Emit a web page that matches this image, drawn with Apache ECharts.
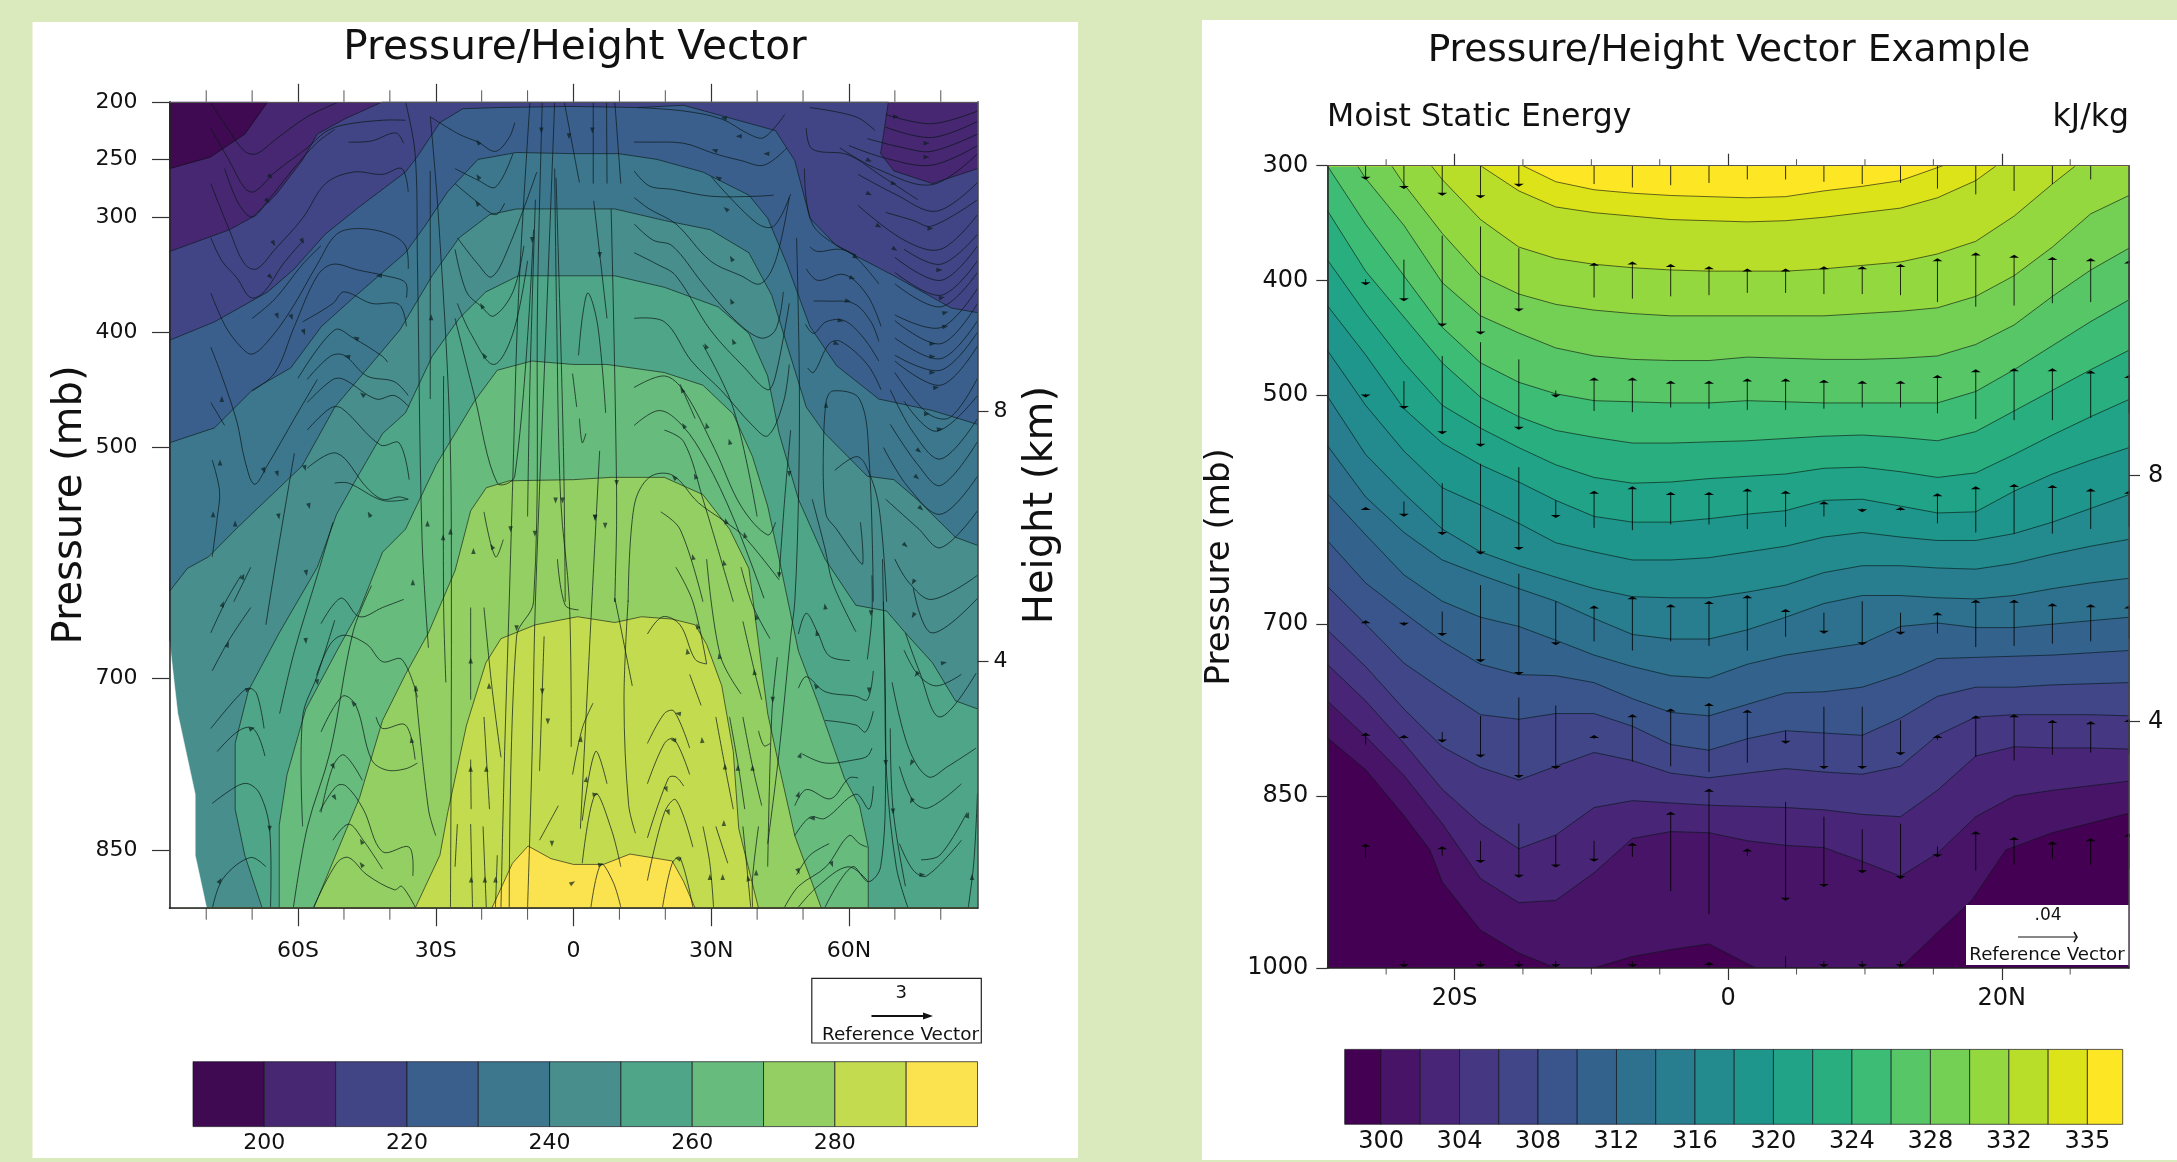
<!DOCTYPE html>
<html><head><meta charset="utf-8">
<style>html,body{margin:0;padding:0;background:#dbeabd}#c{width:2177px;height:1162px}</style>
<script src="https://cdn.jsdelivr.net/npm/echarts@6/dist/echarts.min.js"></script>
</head><body><div id="c"></div>
<script>
// ---------- labels ----------
const titleLeft = 'Pressure/Height Vector';
const titleRight = 'Pressure/Height Vector Example';
const subLeft = 'Moist Static Energy', subRight = 'kJ/kg';
const pressureTicksL = [200,250,300,400,500,700,850];
const pressureTicksR = [300,400,500,700,850,1000];
const latMajorL = [-60,-30,0,30,60], latMinorL = [-80,-70,-50,-40,-20,-10,10,20,40,50,70,80];
const latMajorR = [-20,0,20], latMinorR = [-25,-15,-10,-5,5,10,15,25];
const heightTicks = [4,8];
// ---------- left panel: band colours (190..300 by 10) ----------
const barLevelsL = [190,200,210,220,230,240,250,260,270,280,290,300];
const barColorsL = ['#3f0a52','#472672','#424585','#3b5f8c','#3d778e','#478e8c','#4fa588','#67bb7c','#93cf62','#c3dc4f','#fbe24f'];
const barLabelsL = [200,220,240,260,280];
// ---------- left panel: contour lines [lat, mb] ----------
const cL200 = [[-88,258],[-79.1,248],[-71.6,228],[-66.6,200]];
const cL210 = [[-88,330],[-74.9,311],[-69.9,300],[-64.9,281],[-59.1,251],[-55.8,228],[-49.9,215],[-41.6,200],[68.6,200],[66.9,245],[69.8,260],[78.2,271],[88,258]];
const cL220 = [[-88,407],[-78.2,391],[-66.6,365],[-60.8,345],[-54.1,315],[-46.6,291],[-36.6,261],[-34.1,248],[-29.1,218],[-24.1,206],[-16.6,205],[0,204],[14,205],[24,203],[44,225],[48.2,251],[51.5,301],[57.3,325],[69.8,351],[82.3,379],[88,383]];
const cL230 = [[-88,496],[-78.2,483],[-69.9,450],[-61.6,431],[-54.9,395],[-48.2,371],[-36.6,331],[-32.4,308],[-27.4,278],[-20.8,250],[-12.4,244],[0,245],[9.8,245],[18.2,250],[28.2,261],[38.2,281],[42.3,301],[46.5,341],[51.5,395],[57.3,429],[66.5,458],[78.2,468],[88,480]];
const cL240 = [[-88,625],[-84.1,605],[-79.5,595],[-73.3,570],[-59.1,516],[-52,465],[-37.8,398],[-30.8,351],[-24.9,318],[-18.3,298],[-12.4,293],[0,293],[9,293],[19.8,303],[29.8,311],[38.2,331],[43.2,368],[46.5,411],[50.7,465],[54.8,488],[64,525],[69.8,528],[74.8,545],[83.2,578],[88,585]];
const cL250 = [[-67.8,900],[-71.6,854],[-73.7,814],[-73.7,757],[-70.8,711],[-64.1,661],[-55.8,604],[-51.6,558],[-47.4,528],[-41.6,488],[-36.6,470],[-30.8,421],[-24.9,388],[-19.1,365],[-12,351],[0,351],[9,351],[19.8,361],[31.5,378],[38.2,401],[42.3,438],[44.8,488],[49,545],[54.8,597],[61.5,637],[68.2,642],[72.3,661],[78.2,687],[83.2,720],[88,727]];
const cL260 = [[-64.1,900],[-64.1,828],[-62.4,784],[-58.3,727],[-51.6,677],[-46.6,641],[-41.6,591],[-36.6,571],[-29.9,515],[-25.8,488],[-21.6,460],[-16.6,433],[-9.1,425],[0,428],[7.3,428],[19.8,435],[28.2,446],[34.8,471],[39,508],[42.3,551],[44.8,597],[49,677],[53.2,721],[59,787],[62.3,811],[64.2,847],[64.2,900]];
const cL270 = [[-56.6,900],[-46.6,804],[-41.6,737],[-36.6,697],[-31.6,661],[-25.8,607],[-22.4,555],[-19,535],[-14,529],[0,528],[8.2,526],[19.8,526],[28.2,541],[34,571],[38.2,605],[42.3,731],[44.8,777],[48.2,837],[54,900]];
const cL280 = [[-34.5,900],[-29.1,854],[-27.4,817],[-23.3,741],[-19.1,687],[-15.8,666],[-8.3,654],[0.9,647],[9,652],[14.8,647],[21.5,649],[26.5,654],[29,671],[32.3,707],[34.8,764],[36,831],[40.3,900]];
const cL290 = [[-17.8,900],[-13.3,861],[-9.9,846],[-4.9,857],[0,862],[6.5,862],[12.3,853],[21.5,859],[24,877],[26.5,900]];
const cornerL = [[-88,668],[-86.2,731],[-82.4,801],[-82.4,854],[-79.9,900],[-88,900]];
// ---------- left panel: streamlines [lat, mb] ----------
const streamsL = [
[[-79,201],[-75,225],[-71.6,243],[-69,245],[-65,233],[-58,213],[-51.6,201]],
[[-79,223],[-75,251],[-71.6,275],[-69.5,278],[-65,261],[-58,240],[-54,226],[-50,220],[-41.6,216],[-36.6,216]],
[[-76,258],[-73,288],[-70,300],[-66.6,286],[-61.6,261],[-56,236],[-52,224]],
[[-49,235],[-44,234],[-38.7,227],[-37,236]],
[[-79,271],[-75,311],[-71.6,341],[-69,345],[-65,328],[-59,301],[-54,271],[-48,261],[-41.6,263],[-37.4,258],[-36,278]],
[[-79,318],[-76.6,338],[-73.3,353],[-70.3,370],[-67.4,365],[-63.3,341],[-59,321]],
[[-79,366],[-75.8,395],[-72.4,413],[-70,419],[-66.6,408],[-61.6,381],[-55.8,341],[-51.6,315],[-46.6,310],[-40,315],[-36.6,325],[-36,345]],
[[-79,413],[-76.6,438],[-73.3,478],[-71.6,511],[-69.5,532],[-66.6,515],[-60.8,475],[-55.8,441]],
[[-70,388],[-65,371],[-59,341],[-55,325]],
[[-70,451],[-65,435],[-60.8,395],[-55.8,351],[-52.4,341],[-47,346],[-41,351],[-36.6,357],[-36.4,370]],
[[-59,391],[-52.4,375],[-50,365],[-44,375],[-38,376],[-36.4,395]],
[[-60,440],[-52,398],[-48,405],[-41.6,421],[-40.5,426]],
[[-58,441],[-53,421],[-50,420],[-45,438],[-39,443],[-36,455]],
[[-58,461],[-52.4,441],[-50,441],[-43,458],[-39,455],[-35.8,465]],
[[-58,485],[-53,466],[-50.5,466],[-42,498],[-38,496],[-35.8,528]],
[[-58,518],[-51.6,505],[-45,535],[-41.6,545],[-38,543],[-36,545]],
[[-52,531],[-49,531],[-41.6,546],[-36,545]],
[[-79,461],[-76,481]],
[[-78.7,511],[-77.1,538],[-77.6,561],[-78.7,595]],
[[-79,661],[-75.8,634],[-72.4,611]],
[[-74,634],[-70.3,604]],
[[-78.7,694],[-75,667],[-70.3,639]],
[[-79,744],[-73.3,717],[-70.8,709],[-69,714],[-67.4,744]],
[[-77.6,764],[-73.3,747],[-70.3,743],[-68.6,751],[-67.2,768]],
[[-78.7,809],[-73.3,794],[-70.8,792],[-68.3,801],[-66.2,831],[-66,899]],
[[-78.6,899],[-76.3,874],[-70.4,856],[-67,864]],
[[-67,654],[-65,604],[-60.8,505]],
[[-64,731],[-60.8,677],[-55.8,611],[-52.4,565]],
[[-59,829],[-59,734],[-55.8,698],[-52,650]],
[[-61,899],[-58,830],[-53,764],[-48,660],[-44,620]],
[[-55,653],[-52.4,637],[-50.3,631],[-46.6,647],[-41.6,639],[-37,632]],
[[-56,698],[-53,671],[-50,663],[-45,671],[-41.6,686],[-37.4,684],[-34,717]],
[[-55,747],[-50.3,716],[-47.4,724],[-44,771],[-40.8,780],[-36.6,779],[-34,774]],
[[-43,734],[-41.6,744],[-36.6,741],[-34.5,771]],
[[-55,817],[-52.4,777],[-50,767],[-46,789]],
[[-55.3,816],[-51.6,794],[-49.5,794],[-45.8,814],[-41.6,851],[-35.8,847],[-35,872]],
[[-52.4,841],[-49,827],[-45.8,841],[-41.6,866]],
[[-56.6,899],[-51.6,861],[-49,856],[-45,871],[-39,884],[-37.4,881],[-34.5,899]],
[[-36.6,200],[-34.5,245],[-34,338],[-33,578],[-31.6,674]],
[[-31.2,213],[-29.5,295],[-27,478],[-26.6,634],[-26.8,899]],
[[-31.2,260],[-31.2,345],[-31.2,458]],
[[-28.3,438],[-28.3,634],[-27.8,704]],
[[-31.2,213],[-25,228],[-20.8,235],[-17,243],[-14,231],[-12.8,218]],
[[-25.8,258],[-20.8,268],[-17,274],[-13.2,245]],
[[-25.8,271],[-21.6,285],[-17,298],[-15,288]],
[[-25.3,318],[-20.8,341],[-17.8,352],[-14,325],[-8,261]],
[[-25.8,328],[-23.3,365],[-20,378],[-17.4,386],[-13.2,365],[-10.8,325]],
[[-25.3,375],[-22.4,401],[-17.4,428],[-13.2,401],[-10,338]],
[[-25.8,388],[-21.6,455],[-16.6,531],[-12.8,525],[-8.7,311]],
[[-9.5,201],[-12,371],[-13.2,525],[-14,634],[-15,764],[-15.8,899]],
[[-6.8,200],[-7.8,361],[-8.7,634],[-12.4,664],[-14,899]],
[[-4.1,200],[-5.8,378],[-8.3,634],[-9,764],[-10,899]],
[[-8.3,285],[-9.5,445],[-10,560]],
[[-4.1,258],[-3.7,378],[-2.8,545],[-0.9,634],[-0.5,760]],
[[-2,200],[0.1,245],[1.3,270]],
[[4.3,200],[4.3,271]],[[7.2,200],[7.3,271]],[[9,200],[10.3,271]],
[[4.4,286],[7.3,388]],
[[1.1,420],[2,385],[3.2,366],[5.3,395],[7,470]],
[[-0.2,436],[0.7,465]],[[1.3,475],[1.9,496],[2.7,488]],
[[-19.5,556],[-17,595],[-15.3,580]],
[[8.2,293],[9.4,545],[9,634],[9,631],[12.8,707]],
[[-3.8,266],[-2.2,500],[-1.8,634]],
[[5.7,503],[4,634],[1.5,831]],
[[-3.5,597],[-1.8,637],[1.1,641]],
[[-0.2,784],[1.9,744],[4.25,722]],
[[1.9,824],[4.8,764],[7.3,792]],
[[1.9,861],[4.8,801],[8.2,831],[10.3,864]],
[[3.8,899],[6,862],[8.6,877],[10.3,899]],
[[-6.4,664],[-7.4,781]],[[-3.3,811],[-7.4,841]],
[[-22.4,639],[-22.4,719]],[[-19.5,639],[-17.8,707],[-15.8,769]],
[[-22.4,771],[-22.3,814]],[[-19.5,734],[-18.3,814]],
[[-22.4,827],[-22,899]],[[-19.7,829],[-19,899]],[[-16.6,854],[-17,899]],[[-25.3,827],[-25.8,864]],
[[-34.5,707],[-31.6,814],[-30,837]],
[[16.1,757],[19.8,731],[21.9,729],[25.3,761]],
[[16.1,792],[19.8,757],[21.9,753],[25.3,784]],
[[16.1,839],[20.7,787],[22.3,786],[24,794]],
[[16.1,876],[19.8,817],[22.3,806],[26,847]],
[[19.4,899],[21.5,861],[23.2,856],[26,899]],
[[16.1,662],[19.4,647],[23.2,654],[26.5,684],[29,688]],
[[14,205],[24,208],[32.3,215],[38.2,228],[41.5,231],[46,211]],
[[13.2,235],[16,235],[24,236],[30.7,245],[36.5,251],[41.5,255],[46.5,240]],
[[13.2,260],[16.5,273],[21.5,276],[30,282],[39.8,282],[43.6,281]],
[[30,265],[39.8,305],[43.6,308],[47.3,280]],
[[13.2,283],[16.5,293],[22.3,306],[29.8,338],[36.5,351],[40.7,358],[44,338],[47,283]],
[[13.2,306],[17.3,320],[21.5,325],[28.2,358],[34.8,388],[40.7,405],[44,398],[45.7,365]],
[[13.2,331],[18.2,341],[22.3,351],[29.8,398],[37.3,431],[42.3,450],[44,438],[47,375]],
[[13.2,388],[19.8,391],[25.7,425],[32.3,451],[39,481],[42.3,490],[45.7,461],[47,428]],
[[13.2,448],[19.8,438],[24,451],[30.7,501],[36.5,551],[42.3,576],[44,565]],
[[13.2,481],[18.7,468],[23.7,481],[28.8,511],[34.8,561],[41.5,631]],
[[19.8,485],[24,495],[28.2,545],[34.8,634]],
[[11.9,634],[13.2,551],[16.5,526],[21.5,524],[27.2,548],[33.2,565],[37.3,578],[44.8,615]],
[[19,556],[23.2,571],[28.2,634]],
[[22.3,604],[26,634],[29,688]],
[[23.2,445],[26.5,475]],[[28.2,411],[34.8,466],[40,560]],
[[25.3,697],[27.8,724]],
[[28.2,829],[29.7,861],[30.5,899]],
[[31,829],[33.6,861]],
[[31,734],[33,777],[34.8,814]],
[[34,734],[36,779],[37.3,814]],
[[36.9,734],[39,777],[41,811]],
[[36.9,651],[39.4,694],[41,719]],
[[40.3,746],[41.5,759],[42.8,757]],
[[36.9,829],[38,874],[38.6,899]],
[[40.3,829],[39,874],[39,899]],
[[44.4,682],[43.2,731],[42.3,864]],
[[29,597],[32,681],[36.5,714]],
[[36.5,604],[39,637],[42.8,666]],
[[11.9,633],[11,720],[12,810],[13.5,835]],
[[48.6,318],[49.2,445],[49,545],[48.2,634],[47.3,664],[44.8,764],[42.3,844]],
[[47.3,485],[46,545],[44.8,611]],
[[51.5,205],[61.5,213],[65.7,225]],
[[50.7,223],[52,241],[59.8,246],[67.3,265],[75,285]],
[[50.3,258],[52.3,308],[61.5,333]],
[[51.5,326],[53.2,330],[58.2,328],[61.5,335],[66.5,358]],
[[50.7,345],[53.2,355],[59,350],[64,368],[67,395]],
[[52.3,373],[55,373],[61,375],[64.8,391],[66.5,408]],
[[50.5,393],[52.3,401],[55,391],[59,390],[63.2,405],[66.5,425]],
[[51,431],[52.3,435],[55.7,410],[58.2,408],[64,428],[67,450]],
[[54.4,511],[55,461],[56.5,451],[62.3,458],[64.4,511],[65.3,634]],
[[54.4,511],[55,558],[57.3,571],[61.5,595],[63,601],[62.5,565]],
[[56.9,520],[61.5,508],[63.6,515],[66.5,551],[68.2,634]],
[[52,545],[54.8,588],[56.5,618],[61.5,660]],
[[68,211],[78,219],[88,208]],
[[68,222],[78,231],[88,217]],
[[64,232],[72,240],[78,243],[88,228]],
[[60,238],[68,249],[78,255],[88,238]],
[[58,240],[66,258],[78,272],[88,245]],
[[62,263],[70,280],[79,295],[88,270]],
[[68,296],[74,303],[78,308],[88,285]],
[[62,290],[72,320],[80,328],[88,298]],
[[72,328],[80,341],[88,315]],
[[70,335],[80,355],[88,325]],
[[70,348],[80,368],[88,338]],
[[70,358],[80,378],[88,348]],
[[70,385],[80,396],[88,362]],
[[70,390],[80,410],[88,375]],
[[70,405],[80,423],[88,390]],
[[70,420],[80,433],[88,400]],
[[70,425],[80,446],[88,412]],
[[70,435],[77,470],[82,474],[88,440]],
[[72,460],[79,486],[88,455]],
[[69,450],[74,487],[80,510],[88,475]],
[[69,480],[75,515],[80,533],[88,495]],
[[67.5,500],[73,535],[80,558],[88,525]],
[[68,545],[75,570],[80,587],[88,555]],
[[70,597],[73,617],[78,632],[88,611]],
[[74,622],[78,661],[88,631]],
[[72,676],[75,697],[79,707],[84.5,697]],
[[69.4,704],[73,761],[77.3,786],[81.5,777],[87.7,761]],
[[71,777],[74,807],[77.3,813],[84.5,792]],
[[71,844],[74,867],[76.9,872],[84.5,841]],
[[75.7,858],[79.8,854],[85.7,817]],
[[72.3,661],[75.3,694],[79.8,734],[87.7,696]],
[[67.3,597],[67.8,697],[68.2,784],[70.3,864],[72.8,899]],
[[69,744],[69.6,814],[72.3,881]],
[[65,611],[65,647],[64,684]],
[[67.5,634],[68,781],[66.9,864],[64.2,877],[60.7,864],[54.8,899]],
[[49,662],[50.7,644],[53.2,661],[55.7,681],[60.2,685]],
[[49,709],[50.7,699],[54.8,712],[61.5,716],[64,719],[65.3,694]],
[[49.8,766],[54.8,774],[61.5,771],[64,768],[65,761]],
[[54.8,737],[61.5,741],[63.6,747],[65.3,729]],
[[48.2,811],[50.7,797],[56,805],[60,787],[62,787]],
[[48.2,837],[51.5,821],[54.8,822],[61.5,801],[64.4,814],[65.3,794]],
[[48.6,871],[51.5,854],[55.7,844]],
[[46,899],[49,881],[55,864],[60,837],[62.3,844],[64,847]],
[[49,899],[53.2,881],[59.8,864],[64,876]],
[[86,899],[87.2,860],[88,800]]
];
// arrowheads [lat, mb, rotation degrees counter-clockwise from up]
const arrowsL = [
[-20.8,235,35],[-20.8,265,35],[-21,288,35],[-7,225,180],[-1,230,180],[4.1,225,180],[-9,320,180],[-66,265,225],[-66.6,286,225],[-65.3,323,210],[-59,321,210],[-66,352,225],[-64.5,386,200],[-61.4,387,200],[-58.7,400,200],[-42.4,351,90],[-47.4,405,60],[-49.3,421,80],[-46,454,50],[-20,377,30],[-19.5,420,30],[-31,387,0],[-76.6,458,0],[-77,513,0],[-78.5,558,0],[-67.4,520,205],[-64.5,523,195],[-58.5,518,195],[-73.7,566,0],[-57.6,551,195],[-64.2,560,190],[-44.5,558,30],[-31.8,566,0],[-28.4,578,0],[-26.8,573,0],[-21.8,590,0],[-17.8,586,30],[-13.7,571,180],[-8.4,575,180],[-3.9,546,180],[-2.4,546,180],[4.7,561,180],
[-72,612,-25],[-76.4,636,-20],[-75.3,671,-25],[-70.8,710,-70],[-70,744,-70],[-66.2,831,180],[-77,876,-30],[-58.2,609,190],[-58.3,668,185],[-55.8,704,190],[-48,722,40],[-52.3,777,210],[-52,804,210],[-46.2,842,30],[-46.2,862,35],[-35,617,0],[-34.3,709,0],[-35.3,754,10],[-22.4,685,0],[-18.4,707,0],[-22.4,779,0],[-19,779,0],[-22.3,875,0],[-19.3,875,0],[-17,875,0],[-12.4,657,180],[-6.8,712,180],[-5.6,738,180],[-4.7,844,180],[-0.2,878,-60],[1.6,753,-10],[2.8,788,-10],[4.8,801,-80],[6,862,-80],[22.75,731,80],[21.7,754,80],[20.25,797,200],[20.7,817,200],[22.75,857,70],[24.8,677,10],[27,655,20],[31.75,681,10],[28,754,5],[33,777,0],[35.8,778,0],[39,778,0],[32.75,826,0],[29.7,873,0],[32.5,873,0],[38,874,15],[39.8,869,0],[39.4,695,5],[39.8,647,15],[43.4,719,180],[54.8,638,10],[53,661,15],[52.75,707,35],[49.4,767,-20],[49,801,-20],[51.9,822,90],[56.3,862,200],[49,868,200],[64.8,644,180],[64.4,711,180],[68,774,180],[69.6,816,180],[73.6,774,150],[73.6,807,150],[76,871,-90],[85.9,819,-20],[86.8,873,0],[80.7,687,-80],[74.7,697,140],[74,617,150],[74,646,150],
[70.25,213,-90],[76.9,236,-90],[76.9,248,-90],[64.4,251,-115],[69.8,271,-105],[64.4,280,-115],[66.5,308,-120],[77.75,310,-90],[70,328,-125],[61.5,335,-120],[79.7,346,-90],[60.75,353,-110],[80.25,370,-80],[59.8,373,-100],[81,383,-75],[81,395,-80],[58.2,390,-100],[78.2,410,-90],[78.2,421,-90],[57.3,410,-110],[78.2,435,-90],[79,448,-80],[77,471,-90],[79.8,484,-80],[75.25,503,-130],[74.8,526,-130],[75.7,553,-130],[72.3,585,-130],[55,463,0],
[32.75,214,80],[36,230,90],[30.7,242,70],[42,245,90],[31.5,266,60],[33.2,293,50],[34.4,336,30],[34.4,373,25],[28.8,412,25],[34.8,408,25],[23.6,450,30],[24,481,30],[29,481,15],[34,495,15],[26.5,525,25],[21.9,526,45],[33.2,564,15],[37.3,576,15],[26,595,15],[32.75,600,15],[6.9,568,180],[4.7,561,180],[44.8,611,180],[47,523,180],[9.4,531,180],[5.7,333,180]
];
const refL = '3', refLabel = 'Reference Vector';

// ---------- right panel ----------
const rLats = [-29.3,-26.5,-23.7,-20.9,-18.1,-15.3,-12.6,-9.8,-7,-4.2,-1.4,1.4,4.2,7,9.8,12.6,15.3,18.1,20.9,23.7,26.5,29.3];
const barLabelsR = [300,302,304,306,308,310,312,314,316,318,320,322,324,326,328,330,332,334,335];
const barShownR = [0,2,4,6,8,10,12,14,16,18];
const barColorsR = ['#440154','#481467','#482576','#453781','#404688','#39558c','#33638d','#2d718e','#287d8e','#238a8d','#1f968b','#20a386','#29af7f','#3cbc75','#56c667','#74d055','#94d840','#b8de29','#dce319','#fde725'];
// contour pressures at each rLats column, from the bottom band up
const pR2  = [767,798,832,874,922,943,941,917,887,881,882,889,893,895,907,920,900,868,850,845,841,837];
const pR3  = [735,767,804,844,874,896,884,860,854,856,858,859,860,862,866,868,845,815,807,808,808,809];
const pR4  = [705,737,774,807,825,836,824,812,819,830,834,830,826,829,831,824,797,781,779,779,779,780];
const pR5  = [667,700,734,757,779,783,778,778,789,805,810,800,793,795,797,782,763,755,755,753,752,751];
const pR6  = [627,664,690,715,735,744,745,751,765,777,780,770,760,759,755,744,730,729,728,727,725,723];
const pR7  = [586,622,657,680,694,702,714,727,737,745,747,735,727,722,717,702,699,703,703,700,697,694];
const pR8  = [544,589,620,644,657,669,680,695,709,713,713,705,694,682,675,675,677,678,675,669,664,660];
const pR9  = [501,552,586,617,637,649,659,669,676,677,677,672,666,655,649,649,651,652,647,639,632,626];
const pR10 = [461,509,549,581,596,612,629,637,644,644,642,637,632,624,620,624,627,627,621,611,599,587];
const pR11 = [422,465,512,542,561,576,592,606,611,611,608,604,601,592,591,597,603,602,584,569,557,546];
const pR12 = [382,429,472,509,529,546,561,572,577,576,573,571,569,564,563,567,572,568,552,535,519,504];
const pR13 = [339,392,432,472,502,519,531,537,542,542,541,540,538,536,535,537,540,532,514,496,478,461];
const pR14 = [300,351,396,441,472,489,499,505,506,507,507,505,506,507,507,507,507,497,478,457,436,417];
const cR1  = [[-29.3,799],[-26.5,827],[-23.7,867],[-21.8,897],[-20.9,925],[-18.1,967],[-15.3,987],[-12.6,1000],[-9.8,1000],[-7,990],[-4.2,984],[-1.4,979],[2,1000],[12.6,1000],[15.3,969],[17.8,941],[20.3,897],[23.7,882],[29.3,865]];
const cR15 = [[-27.1,300],[-26.5,311],[-23.7,352],[-20.9,402],[-18.1,431],[-15.3,446],[-12.6,459],[-9.8,466],[-7,469],[-4.2,470],[-1.4,470],[1.4,467],[4.2,468],[7,469],[9.8,469],[12.6,468],[15.3,466],[18.1,456],[20.9,439],[23.7,414],[26.5,391],[29.3,372]];
const cR16 = [[-24.6,300],[-23.7,316],[-20.9,359],[-18.1,396],[-15.3,412],[-12.6,421],[-9.8,426],[-7,429],[-4.2,431],[-1.4,431],[1.4,431],[4.2,431],[7,431],[9.8,429],[12.6,427],[15.3,424],[18.1,414],[20.9,396],[23.7,371],[26.5,342],[29.3,326]];
const cR17 = [[-21.7,300],[-20.9,312],[-18.1,347],[-15.3,371],[-12.6,381],[-9.8,386],[-7,389],[-4.2,391],[-1.4,392],[1.4,392],[4.2,392],[7,390],[9.8,387],[12.6,384],[15.3,377],[18.1,366],[20.9,344],[23.7,316],[25.4,300]];
const cR18 = [[-18.1,300],[-15.3,322],[-12.6,336],[-9.8,341],[-7,344],[-4.2,347],[-1.4,348],[1.4,349],[4.2,348],[7,345],[9.8,341],[12.6,337],[15.3,328],[18.1,313],[19.6,300]];
const cR19 = [[-15,300],[-12.6,314],[-9.8,321],[-7,324],[-4.2,326],[-1.4,327],[1.4,328],[4.2,327],[7,322],[9.8,318],[12.6,313],[15.7,300]];
// vectors: [lat, tail mb, head mb]
const vecRow300 = [[-26.5,289,311],[-23.7,281,319],[-20.9,275,325],[-18.1,273,327],[-15.3,283,317],[-9.8,316,284],[-7,319,281],[-4.2,317,283],[-1.4,315,285],[1.4,312,288],[4.2,312,288],[7,314,286],[9.8,316,284],[12.6,315,285],[15.3,320,280],[18.1,325,275],[20.9,322,278],[23.7,316,284],[26.5,312,288]];
const vecRow400 = [[-26.5,399,403],[-23.7,382,417],[-20.9,361,439],[-18.1,353,446],[-15.3,372,426],[-9.8,415,386],[-7,416,385],[-4.2,414,387],[-1.4,413,389],[1.4,411,391],[4.2,411,391],[7,412,389],[9.8,412,389],[12.6,413,387],[15.3,419,382],[18.1,423,377],[20.9,422,379],[23.7,420,381],[26.5,419,382],[29.3,416,384]];
const vecRow500 = [[-26.5,499,501],[-23.7,488,511],[-20.9,466,533],[-18.1,454,544],[-15.3,469,529],[-12.6,496,501],[-9.8,514,486],[-7,515,486],[-4.2,511,489],[-1.4,512,489],[1.4,513,487],[4.2,513,487],[7,512,488],[9.8,511,489],[12.6,511,489],[15.3,516,484],[18.1,521,479],[20.9,522,478],[23.7,522,478],[26.5,520,480],[29.3,516,484]];
const vecRow600 = [[-26.5,600,599],[-23.7,593,605],[-20.9,577,621],[-18.1,560,638],[-15.3,563,634],[-12.6,592,606],[-9.8,616,585],[-7,618,581],[-4.2,613,586],[-1.4,613,586],[1.4,617,583],[4.2,615,585],[7,606,594],[9.8,599,601],[12.6,601,599],[15.3,612,587],[18.1,620,581],[20.9,621,579],[23.7,621,580],[26.5,617,583],[29.3,615,585]];
const vecRow700 = [[-26.5,700,698],[-23.7,698,700],[-20.9,689,709],[-18.1,666,732],[-15.3,656,743],[-12.6,680,717],[-9.8,715,685],[-7,723,677],[-4.2,715,684],[-1.4,719,681],[1.4,723,676],[4.2,711,688],[7,690,707],[9.8,680,717],[12.6,690,708],[15.3,708,691],[18.1,720,680],[20.9,719,680],[23.7,717,683],[26.5,715,684],[29.3,713,685]];
const vecRow800 = [[-26.5,805,796],[-23.7,800,798],[-20.9,794,802],[-18.1,780,815],[-15.3,764,833],[-12.6,771,825],[-9.8,800,798],[-7,820,780],[-4.2,824,775],[-1.4,829,770],[1.4,821,776],[4.2,793,803],[7,772,825],[9.8,772,825],[12.6,784,813],[15.3,801,798],[18.1,816,781],[20.9,819,780],[23.7,814,785],[26.5,812,786],[29.3,814,784]];
const vecRow900 = [[-26.5,904,893],[-20.9,902,895],[-18.1,889,907],[-15.3,874,920],[-12.6,884,911],[-9.8,889,906],[-7,903,892],[-4.2,933,865],[-1.4,953,845],[1.4,902,897],[4.2,855,940],[7,868,928],[9.8,879,916],[12.6,874,921],[15.3,894,902],[18.1,915,882],[20.9,910,887],[23.7,905,891],[26.5,910,888],[29.3,914,884]];
const vecRow1000 = [[-23.7,994,998],[-18.1,994,998],[-15.3,994,998],[-12.6,994,998],[-7,994,998],[-1.4,1003,996],[4.2,990,1002],[7,994,998],[9.8,994,998],[12.6,994,998]];

// ---------- helpers ----------
const FONT = 'DejaVu Sans';
const zip = ps => ps.map((p,i)=>[rLats[i],p]);
const contoursL = [
 {pts:[[-88,200],[88,200],[88,900],[-88,900]],fill:barColorsL[1],line:false},
 {pts:cL200.concat([[-88,200]]),raw:cL200,fill:barColorsL[0]},
 ...[[cL210,2],[cL220,3],[cL230,4],[cL240,5],[cL250,6],[cL260,7],[cL270,8],[cL280,9],[cL290,10]].map(([c,b])=>({pts:c.concat([[88,900],[-88,900]]),raw:c,fill:barColorsL[b]})),
 {pts:cornerL,fill:'#ffffff',line:false}
];
const rAll = [cR1,zip(pR2),zip(pR3),zip(pR4),zip(pR5),zip(pR6),zip(pR7),zip(pR8),zip(pR9),zip(pR10),zip(pR11),zip(pR12),zip(pR13),zip(pR14),cR15,cR16,cR17,cR18,cR19];
const contoursR = [{pts:[[-29.3,300],[29.3,300],[29.3,1000],[-29.3,1000]],fill:barColorsR[0],line:false}]
  .concat(rAll.map((c,i)=>({pts:c.concat([[29.3,300],[-29.3,300]]),raw:c,fill:barColorsR[i+1]})));
const vectorsR = [].concat(vecRow300,vecRow400,vecRow500,vecRow600,vecRow700,vecRow800,vecRow900,vecRow1000);

function contourSeries(list,xi,yi){
  return {type:'custom',xAxisIndex:xi,yAxisIndex:yi,clip:true,silent:true,z:2,
    data:list.map((_,i)=>[i]),
    renderItem:(p,api)=>{
      const c=list[api.value(0)];
      const kids=[{type:'polygon',shape:{points:c.pts.map(q=>api.coord(q))},style:{fill:c.fill,stroke:c.fill,lineWidth:.5}}];
      if(c.line!==false) kids.push({type:'polyline',shape:{points:c.raw.map(q=>api.coord(q))},style:{fill:null,stroke:'rgba(10,20,20,.62)',lineWidth:1}});
      return {type:'group',children:kids};
    }};
}
function tickSeries(vals,xi,yi,yTop,yBot,len){
  return {type:'custom',xAxisIndex:xi,yAxisIndex:yi,clip:false,silent:true,z:6,
    data:vals.map(v=>[v]),
    renderItem:(p,api)=>{
      const a=api.coord([api.value(0),yBot]),b=api.coord([api.value(0),yTop]);
      const st={stroke:'#555',lineWidth:1};
      return {type:'group',children:[
        {type:'line',shape:{x1:a[0],y1:a[1],x2:a[0],y2:a[1]+len},style:st},
        {type:'line',shape:{x1:b[0],y1:b[1],x2:b[0],y2:b[1]-len},style:st}]};
    }};
}
function barSeries(lo,hi,colors,xi,yi){
  return {type:'custom',xAxisIndex:xi,yAxisIndex:yi,clip:false,silent:true,z:3,
    data:colors.map((_,i)=>[i]),
    renderItem:(p,api)=>{
      const i=api.value(0),a=api.coord([lo[i],1]),b=api.coord([hi[i],0]);
      return {type:'rect',shape:{x:a[0],y:a[1],width:b[0]-a[0],height:b[1]-a[1]},style:{fill:colors[i],stroke:'rgba(20,20,30,.7)',lineWidth:1}};
    }};
}
const lat = v => v===0?'0':(Math.abs(v)+(v<0?'S':'N'));
function xAxes(min,max,major,gi,tickLen,fs,margin){
  return [
   {type:'value',gridIndex:gi,position:'bottom',min,max,z:10,splitLine:{show:false},
    axisLine:{onZero:false,lineStyle:{color:'#222',width:1.5}},
    axisTick:{customValues:major,length:tickLen,lineStyle:{color:'#333',width:1.2}},
    axisLabel:{customValues:major,formatter:lat,fontFamily:FONT,fontSize:fs,color:'#111',margin}},
   {type:'value',gridIndex:gi,position:'top',min,max,z:10,splitLine:{show:false},
    axisLine:{onZero:false,lineStyle:{color:'#555',width:1}},
    axisTick:{customValues:major,length:tickLen,lineStyle:{color:'#333',width:1.2}},
    axisLabel:{show:false}}];
}
function yAxes(min,max,ticks,hmax,gi,fs,cfg){
  return [
   {type:'value',gridIndex:gi,position:'left',inverse:true,min,max,z:10,splitLine:{show:false},
    name:'Pressure (mb)',nameLocation:'middle',nameRotate:90,nameGap:cfg.nameGap,
    nameTextStyle:{fontFamily:FONT,fontSize:cfg.nameSize,color:'#111'},
    axisLine:{onZero:false,lineStyle:{color:'#222',width:1.5}},
    axisTick:{customValues:ticks,length:cfg.tick,lineStyle:{color:'#333',width:1.2}},
    axisLabel:{customValues:ticks,formatter:v=>String(v),fontFamily:FONT,fontSize:fs,color:'#111',margin:cfg.margin,padding:[2,0,0,0]}},
   {type:'value',gridIndex:gi,position:'right',min:cfg.hmin,max:hmax,z:10,splitLine:{show:false},
    name:'Height (km)',nameLocation:'middle',nameRotate:90,nameGap:cfg.hGap,
    nameTextStyle:{fontFamily:FONT,fontSize:cfg.nameSize,color:'#111'},
    axisLine:{onZero:false,lineStyle:{color:'#444',width:1.5}},
    axisTick:{customValues:heightTicks,length:cfg.htick,lineStyle:{color:'#333',width:1.2}},
    axisLabel:{customValues:heightTicks,fontFamily:FONT,fontSize:fs,color:'#111',margin:cfg.hMargin,padding:[2,0,0,0]}}];
}
const lastL = barLevelsL.length-1;
const barLoR = [-0.926].concat(barLabelsR.map((_,i)=>i));
const barHiR = barLabelsR.map((_,i)=>i).concat([18.9]);

const option = {
  backgroundColor:'#dbeabd',animation:false,
  title:[
   {text:titleLeft,left:570,top:23,textAlign:'center',textStyle:{fontFamily:FONT,fontSize:40.6,fontWeight:'normal',color:'#111'}},
   {text:titleRight,left:1724,top:27,textAlign:'center',textStyle:{fontFamily:FONT,fontSize:37.5,fontWeight:'normal',color:'#111'}},
   {text:subLeft,left:1322,top:97,textStyle:{fontFamily:FONT,fontSize:31.5,fontWeight:'normal',color:'#111'}},
   {text:subRight,right:43,top:97,textStyle:{fontFamily:FONT,fontSize:31.5,fontWeight:'normal',color:'#111'}}
  ],
  grid:[
   {left:169.5,top:101.8,width:808,height:806.4,outerBoundsMode:'none'},
   {left:1327.3,top:165.7,width:801.7,height:802.3,outerBoundsMode:'none'},
   {left:193,top:1061.7,width:784.5,height:64.9,outerBoundsMode:'none'},
   {left:1344.7,top:1049.4,width:778,height:74.9,outerBoundsMode:'none'}
  ],
  xAxis:[
   ...xAxes(-88,88,latMajorL,0,18,22,32),
   ...xAxes(-29.3,29.3,latMajorR,1,12,24,19),
   {type:'value',gridIndex:2,min:190,max:300,splitLine:{show:false},axisLine:{show:false},axisTick:{show:false},
    axisLabel:{customValues:barLabelsL,fontFamily:FONT,fontSize:22,color:'#111',margin:6}},
   {type:'value',gridIndex:3,min:-0.926,max:18.9,splitLine:{show:false},axisLine:{show:false},axisTick:{show:false},
    axisLabel:{customValues:barShownR,formatter:v=>String(barLabelsR[v]),fontFamily:FONT,fontSize:24,color:'#111',margin:5}}
  ],
  yAxis:[
   ...yAxes(200,900,pressureTicksL,12.96,0,22,{nameGap:79,nameSize:40,tick:17.5,margin:32,hmin:0.04,hGap:44,htick:11,hMargin:16}),
   ...yAxes(300,1000,pressureTicksR,13.03,1,24,{nameGap:90,nameSize:34,tick:11,margin:19,hmin:0,hGap:62,htick:11,hMargin:19}),
   {type:'value',gridIndex:2,min:0,max:1,show:false},
   {type:'value',gridIndex:3,min:0,max:1,show:false}
  ],
  series:[
   contourSeries(contoursL,0,0),
   {type:'custom',xAxisIndex:0,yAxisIndex:0,clip:true,silent:true,z:3,
    data:streamsL.map((_,i)=>[i]),
    renderItem:(p,api)=>({type:'polyline',shape:{points:streamsL[api.value(0)].map(q=>api.coord(q)),smooth:0.35},style:{fill:null,stroke:'rgba(10,25,25,.72)',lineWidth:1}})},
   {type:'scatter',xAxisIndex:0,yAxisIndex:0,clip:true,silent:true,z:4,symbol:'triangle',symbolSize:[4.5,6],
    itemStyle:{color:'rgba(10,30,30,.85)'},
    data:arrowsL.map(a=>({value:[a[0],a[1]],symbolRotate:a[2]}))},
   tickSeries(latMinorL,0,0,200,900,11.5),
   barSeries(barLevelsL.slice(0,lastL),barLevelsL.slice(1),barColorsL,4,4),

   contourSeries(contoursR,2,2),
   {type:'custom',xAxisIndex:2,yAxisIndex:2,clip:true,silent:true,z:4,
    data:vectorsR.map(v=>v),
    renderItem:(p,api)=>{
      const x=api.value(0),t=api.coord([x,api.value(1)]),h=api.coord([x,api.value(2)]);
      const dir=h[1]>=t[1]?1:-1;
      return {type:'group',children:[
        {type:'line',shape:{x1:t[0],y1:t[1],x2:h[0],y2:h[1]},style:{stroke:'rgba(0,0,0,.82)',lineWidth:1}},
        {type:'polygon',shape:{points:[[h[0],h[1]+dir*1.5],[h[0]-5,h[1]-dir*1.5],[h[0]+5,h[1]-dir*1.5]]},style:{fill:'#050505'}}]};
    }},
   tickSeries(latMinorR,2,2,300,1000,6.5),
   barSeries(barLoR,barHiR,barColorsR,5,5)
  ],
  graphic:[
   {type:'rect',z:-10,silent:true,shape:{x:32.5,y:22,width:1045.5,height:1136},style:{fill:'#ffffff'}},
   {type:'rect',z:-10,silent:true,shape:{x:1202,y:20,width:975,height:1140},style:{fill:'#ffffff'}},
   {type:'rect',z:50,silent:true,shape:{x:811.8,y:978.4,width:169.5,height:64.6},style:{fill:'#fff',stroke:'#222',lineWidth:1.2}},
   {type:'text',z:51,silent:true,x:901.3,y:993.8,style:{text:refL,font:'18px "DejaVu Sans"',fill:'#111',align:'center',verticalAlign:'middle'}},
   {type:'line',z:51,silent:true,shape:{x1:871.5,y1:1016,x2:926,y2:1016},style:{stroke:'#111',lineWidth:2.2}},
   {type:'polygon',z:51,silent:true,shape:{points:[[933,1016],[923,1012.5],[923,1019.5]]},style:{fill:'#111'}},
   {type:'text',z:51,silent:true,x:900.5,y:1035,style:{text:refLabel,font:'18.4px "DejaVu Sans"',fill:'#111',align:'center',verticalAlign:'middle'}},
   {type:'rect',z:50,silent:true,shape:{x:1966,y:905,width:162.3,height:60},style:{fill:'#fff'}},
   {type:'text',z:51,silent:true,x:2048,y:916,style:{text:'.04',font:'17px "DejaVu Sans"',fill:'#111',align:'center',verticalAlign:'middle'}},
   {type:'line',z:51,silent:true,shape:{x1:2018,y1:937,x2:2076,y2:937},style:{stroke:'#111',lineWidth:1}},
   {type:'polyline',z:51,silent:true,shape:{points:[[2074,932],[2077,937],[2074,942]]},style:{fill:null,stroke:'#111',lineWidth:1.5}},
   {type:'text',z:51,silent:true,x:2047,y:955,style:{text:refLabel,font:'18.2px "DejaVu Sans"',fill:'#111',align:'center',verticalAlign:'middle'}}
  ]
};
echarts.init(document.getElementById('c'),null,{renderer:'canvas'}).setOption(option);
</script></body></html>
